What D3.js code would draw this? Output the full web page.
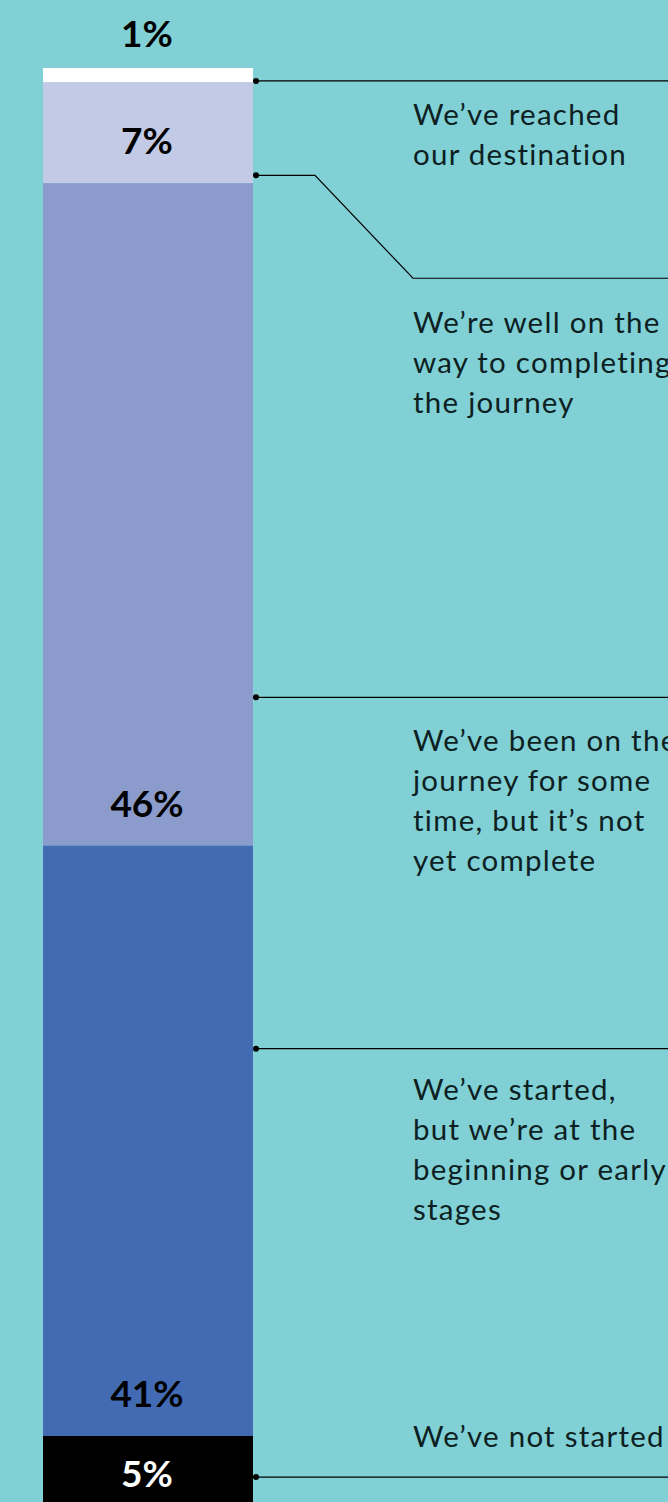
<!DOCTYPE html>
<html><head><meta charset="utf-8">
<script src="https://cdn.jsdelivr.net/npm/d3@7"></script>
<style>html,body{margin:0;padding:0;background:#80d0d5;overflow:hidden}</style>
</head><body><div id="chart"></div>
<script>
// ---- data ----
const categories = [
  "We’ve reached our destination",
  "We’re well on the way to completing the journey",
  "We’ve been on the journey for some time, but it’s not yet complete",
  "We’ve started, but we’re at the beginning or early stages",
  "We’ve not started"
];
const values = [1, 7, 46, 41, 5];
const valueLabels = ["1%", "7%", "46%", "41%", "5%"];
const labelLines = [
  ["We’ve reached", "our destination"],
  ["We’re well on the", "way to completing", "the journey"],
  ["We’ve been on the", "journey for some", "time, but it’s not", "yet complete"],
  ["We’ve started,", "but we’re at the", "beginning or early", "stages"],
  ["We’ve not started"]
];
// annotation anchors, in the bar's percent scale
const leaderFrom = [0.9, 7.45, 43.7, 68.1, 97.85];
const leaderTo   = [0.9, 14.6, 43.7, 68.1, 97.85];
const textAt     = [3.96, 18.4, 47.4, 71.7, 95.75];
const colors = ["#ffffff", "#c3cae6", "#8a9bcc", "#426bb3", "#000000"];
const valueColors = ["#000", "#000", "#000", "#000", "#fff"];

// ---- layout ----
const W = 668, H = 1502;
const svg = d3.select("#chart").append("svg").attr("width", W).attr("height", H)
  .style("display", "block");
svg.append("rect").attr("width", W).attr("height", H).attr("fill", "#80d0d5");

const y = d3.scaleLinear().domain([0, 100]).range([68, 1508]);
const x = d3.scaleBand().domain(["all"]).range([43, 253]).padding(0);

let acc = 0;
const segs = values.map((v, i) => { const s = { i, v, y0: acc, y1: acc + v }; acc += v; return s; });

svg.append("g").selectAll("rect").data(segs).join("rect")
  .attr("x", x("all")).attr("width", x.bandwidth())
  .attr("y", d => y(d.y0)).attr("height", d => y(d.y1) - y(d.y0))
  .attr("fill", d => colors[d.i]);

const cx = x("all") + x.bandwidth() / 2 - 1;
svg.append("g").selectAll("text").data(segs).join("text")
  .attr("x", cx)
  .attr("y", d => {
    if (d.i === 0) return y(d.y0) - 21;
    const mid = (y(d.y0) + y(d.y1)) / 2;
    return Math.max(mid + 15, y(d.y1) - 29);
  })
  .attr("text-anchor", "middle")
  .attr("font-family", "Lato, 'Open Sans', sans-serif")
  .attr("font-weight", 700)
  .attr("font-size", 37)
  .attr("fill", d => valueColors[d.i])
  .text(d => valueLabels[d.i]);

// leaders
const dotX = x("all") + x.bandwidth() + 3;
const lg = svg.append("g");
categories.forEach((c, i) => {
  const y0 = y(leaderFrom[i]), y1 = y(leaderTo[i]);
  const pts = y0 === y1 ? [[dotX, y0], [W, y0]]
    : [[dotX, y0], [315, y0], [413, y1], [W, y1]];
  lg.append("path").attr("d", d3.line()(pts)).attr("fill", "none")
    .attr("stroke", "#000").attr("stroke-width", 1.2);
  lg.append("circle").attr("cx", dotX).attr("cy", y0).attr("r", 3).attr("fill", "#000");
});

// category labels
const tg = svg.append("g");
labelLines.forEach((lines, i) => {
  const t = tg.append("text")
    .attr("x", 413).attr("y", y(textAt[i]))
    .attr("font-family", "Lato, 'Open Sans', sans-serif")
    .attr("font-size", 29.5)
    .attr("letter-spacing", 1.25)
    .attr("fill", "#0d1f22");
  lines.forEach((l, k) => t.append("tspan").attr("x", 413).attr("dy", k ? 40 : 0).text(l));
});
</script></body></html>
